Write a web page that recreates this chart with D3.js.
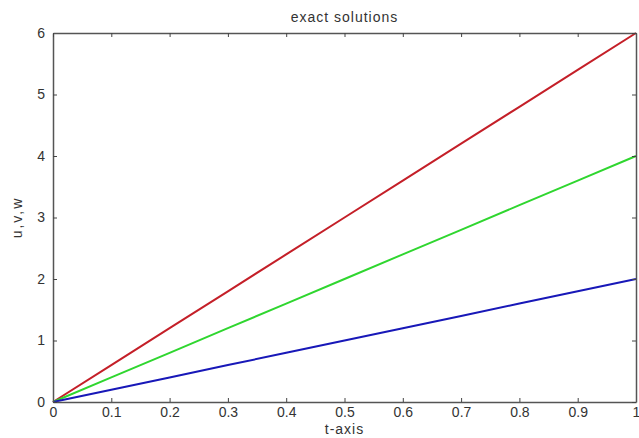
<!DOCTYPE html>
<html>
<head>
<meta charset="utf-8">
<script src="https://cdn.jsdelivr.net/npm/d3@7"></script>
<style>
  body { margin: 0; background: #fff; }
  text { font-family: "Liberation Sans", Arial, sans-serif; fill: #333; }
</style>
</head>
<body>
<div class="visContainer"></div>
<script>
const tValues = [0, 0.1, 0.2, 0.3, 0.4, 0.5, 0.6, 0.7, 0.8, 0.9, 1];
const uValues = [0, 0.6, 1.2, 1.8, 2.4, 3.0, 3.6, 4.2, 4.8, 5.4, 6.0];
const vValues = [0, 0.4, 0.8, 1.2, 1.6, 2.0, 2.4, 2.8, 3.2, 3.6, 4.0];
const wValues = [0, 0.2, 0.4, 0.6, 0.8, 1.0, 1.2, 1.4, 1.6, 1.8, 2.0];
const xTicks = [0, 0.1, 0.2, 0.3, 0.4, 0.5, 0.6, 0.7, 0.8, 0.9, 1];
const yTicks = [0, 1, 2, 3, 4, 5, 6];

const width = 639;
const height = 438;
const plotLeft = 53, plotRight = 636, plotTop = 33, plotBottom = 402;

const svg = d3.select('.visContainer')
              .append('svg')
              .attr('width', width)
              .attr('height', height);

const xScale = d3.scaleLinear().domain([0, 1]).range([plotLeft, plotRight]);
const yScale = d3.scaleLinear().domain([0, 6]).range([plotBottom, plotTop]);

// series, drawn first so the box sits on top
const series = [
    { values: uValues, color: '#c41f28' },
    { values: vValues, color: '#2fd62f' },
    { values: wValues, color: '#1818b8' }
];
const line = d3.line()
               .x((d, i) => xScale(tValues[i]))
               .y((d) => yScale(d));
series.forEach((s) => {
    svg.append('path')
       .datum(s.values)
       .attr('fill', 'none')
       .attr('stroke', s.color)
       .attr('stroke-width', 2)
       .attr('d', line);
});

// axes with inward ticks, matlab style
const tickFmt = (d) => d3.format('~g')(d);
const xAxis = d3.axisBottom(xScale).tickValues(xTicks).tickFormat(tickFmt).tickSizeInner(-4).tickSizeOuter(0).tickPadding(4);
const yAxis = d3.axisLeft(yScale).tickValues(yTicks).tickFormat(tickFmt).tickSizeInner(-4).tickSizeOuter(0).tickPadding(8);
const xTop = d3.axisTop(xScale).tickValues(xTicks).tickFormat('').tickSizeInner(-4).tickSizeOuter(0);
const yRight = d3.axisRight(yScale).tickValues(yTicks).tickFormat('').tickSizeInner(-4).tickSizeOuter(0);

const gx = svg.append('g').attr('transform', 'translate(0,' + plotBottom + ')').call(xAxis);
const gy = svg.append('g').attr('transform', 'translate(' + plotLeft + ',0)').call(yAxis);
svg.append('g').attr('transform', 'translate(0,' + plotTop + ')').call(xTop);
svg.append('g').attr('transform', 'translate(' + plotRight + ',0)').call(yRight);

svg.selectAll('.domain').attr('stroke', '#555').attr('stroke-width', 1.5);
svg.selectAll('.tick line').attr('stroke', '#444');
svg.selectAll('.tick text').attr('font-size', 14).style('fill', '#333');
gx.selectAll('.tick text').attr('dy', '0.75em');

// labels
svg.append('text')
   .attr('x', (plotLeft + plotRight) / 2)
   .attr('y', 22)
   .attr('text-anchor', 'middle')
   .attr('font-size', 14)
   .attr('letter-spacing', 1)
   .text('exact solutions');

svg.append('text')
   .attr('x', (plotLeft + plotRight) / 2)
   .attr('y', 434)
   .attr('text-anchor', 'middle')
   .attr('font-size', 14)
   .attr('letter-spacing', 1)
   .text('t-axis');

svg.append('text')
   .attr('transform', 'translate(22,' + ((plotTop + plotBottom) / 2) + ') rotate(-90)')
   .attr('text-anchor', 'middle')
   .attr('font-size', 14)
   .attr('letter-spacing', 2)
   .text('u,v,w');
</script>
</body>
</html>
